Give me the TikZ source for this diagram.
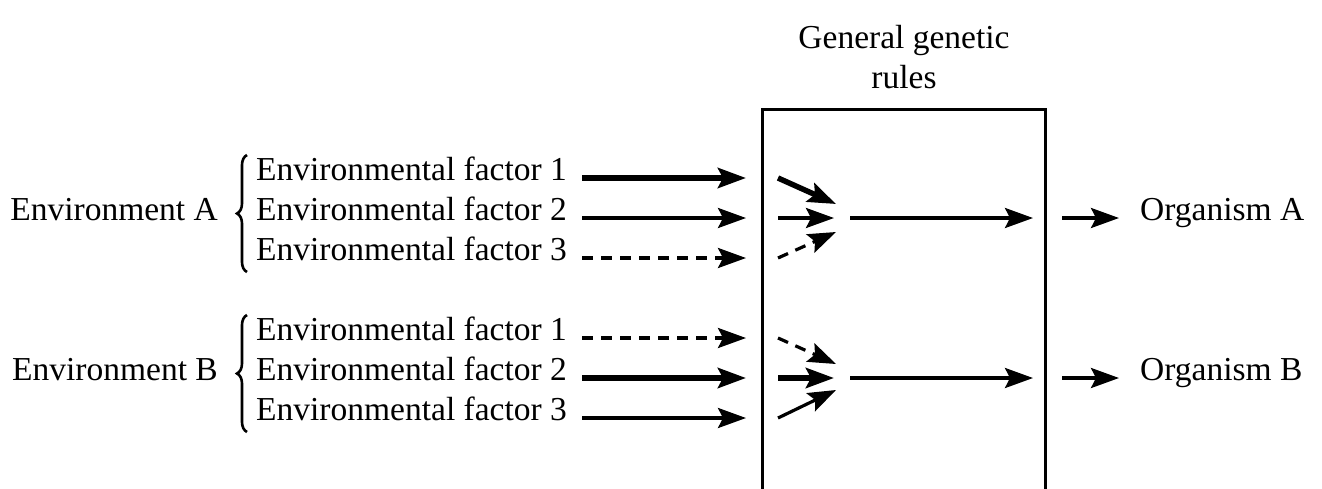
\documentclass[tikz,border=0pt]{standalone}
\usepackage{fontspec}
\setmainfont{Liberation Serif}
\usetikzlibrary{arrows.meta,decorations.pathreplacing}
\begin{document}
\begin{tikzpicture}[x=1pt,y=-1pt,
  lbl/.style={font=\fontsize{33.5}{40}\selectfont, inner sep=0pt},
  flow/.style={line width=3.2pt,-{Stealth[length=28pt,width=20pt,inset=5pt]}},
  strong/.style={line width=5.5pt},
  weak/.style={dash pattern=on 11pt off 8pt},
  brc/.style={decorate,decoration={brace,amplitude=10pt,mirror,aspect=0.5},line width=2.6pt},
  frame/.style={line width=2.8pt}]
\useasboundingbox (0,0) rectangle (1322,488);

% the box of general genetic rules (open at the bottom)
\node[inner sep=0pt,minimum width=282pt,minimum height=380pt] (box) at (904,300) {};
\draw[frame] (box.south west) -- (box.north west) -- (box.north east) -- (box.south east);
\node[lbl,align=center,anchor=north] (title) at (904,25) {General genetic\\rules};

% environment labels and braces
\node[lbl,anchor=mid east] (envA) at (218,218) {Environment A};
\node[lbl,anchor=mid east] (envB) at (218,378) {Environment B};
\coordinate (bA1) at (247,155); \coordinate (bA2) at (247,272);
\coordinate (bB1) at (247,315); \coordinate (bB2) at (247,432);
\draw[brc] (bA1) -- (bA2);
\draw[brc] (bB1) -- (bB2);

% factor labels
\node[lbl,anchor=mid west] (fA1) at (256,178) {Environmental factor 1};
\node[lbl,anchor=mid west] (fA2) at (256,218) {Environmental factor 2};
\node[lbl,anchor=mid west] (fA3) at (256,258) {Environmental factor 3};
\node[lbl,anchor=mid west] (fB1) at (256,338) {Environmental factor 1};
\node[lbl,anchor=mid west] (fB2) at (256,378) {Environmental factor 2};
\node[lbl,anchor=mid west] (fB3) at (256,418) {Environmental factor 3};

% arrow end points
\foreach \r/\y in {A1/178,A2/218,A3/258,B1/338,B2/378,B3/418}{
  \coordinate (s\r) at (582,\y);
  \coordinate (e\r) at (746,\y);
  \coordinate (i\r) at (778,\y);
}
\coordinate (jA1) at (836,204); \coordinate (jA2) at (834,218); \coordinate (jA3) at (836,232);
\coordinate (jB1) at (836,364); \coordinate (jB2) at (834,378); \coordinate (jB3) at (836,390);
\coordinate (cA) at (850,218); \coordinate (dA) at (1033,218);
\coordinate (cB) at (850,378); \coordinate (dB) at (1033,378);
\coordinate (oA) at (1062,218); \coordinate (pA) at (1119,218);
\coordinate (oB) at (1062,378); \coordinate (pB) at (1119,378);

% arrows into the box
\draw[flow,strong] (sA1) -- (eA1);
\draw[flow] (sA2) -- (eA2);
\draw[flow,weak] (sA3) -- (eA3);
\draw[flow,weak] (sB1) -- (eB1);
\draw[flow,strong] (sB2) -- (eB2);
\draw[flow] (sB3) -- (eB3);

% converging arrows inside the box
\draw[flow,strong] (iA1) -- (jA1);
\draw[flow] (iA2) -- (jA2);
\draw[flow,weak] (iA3) -- (jA3);
\draw[flow,weak] (iB1) -- (jB1);
\draw[flow,strong] (iB2) -- (jB2);
\draw[flow] (iB3) -- (jB3);
\draw[flow] (cA) -- (dA);
\draw[flow] (cB) -- (dB);

% outcomes
\draw[flow] (oA) -- (pA);
\draw[flow] (oB) -- (pB);
\node[lbl,anchor=mid west] (orgA) at (1140,218) {Organism A};
\node[lbl,anchor=mid west] (orgB) at (1140,378) {Organism B};
\end{tikzpicture}
\end{document}
